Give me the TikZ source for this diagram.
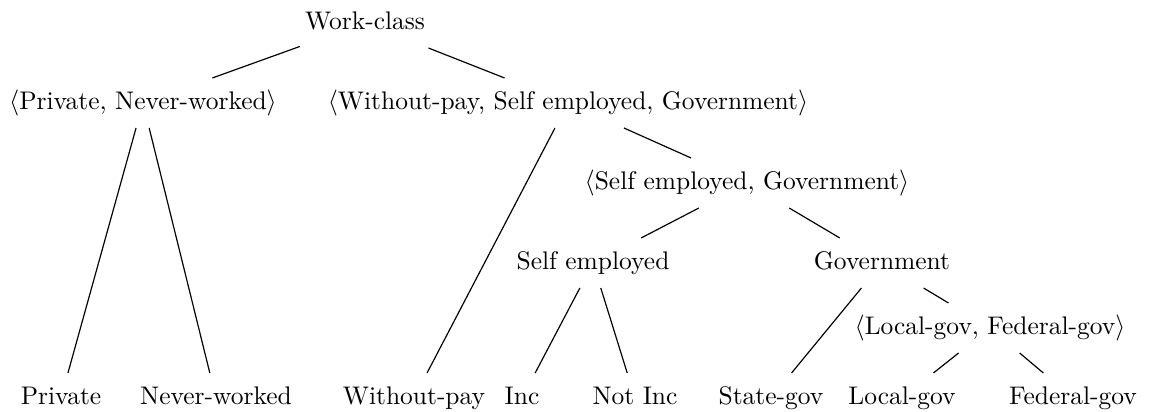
\documentclass[tikz,border=0pt]{standalone}
\tikzset{
  tnode/.style={font=\fontsize{10.74pt}{13pt}\selectfont, inner xsep=2pt, inner ysep=5pt, text height=8pt, text depth=2.7pt},
  tedge/.style={draw, line width=0.5pt}
}
\begin{document}
\begin{tikzpicture}[x=0.4217pt, y=-0.4217pt]
  \useasboundingbox (0,0) rectangle (1151,412);
  % top levels
  \node[tnode] (wc) at (365,23) {Work-class};
  \node[tnode] (pn) at (143,103) {$\langle$Private, Never-worked$\rangle$};
  \node[tnode] (wsg) at (568,103) {$\langle$Without-pay, Self employed, Government$\rangle$};
  \node[tnode] (sg) at (747,183) {$\langle$Self employed, Government$\rangle$};
  \node[tnode] (se) at (593,263) {Self employed};
  \node[tnode] (gov) at (882,263) {Government};
  \node[tnode] (lf) at (990,328) {$\langle$Local-gov, Federal-gov$\rangle$};
  % leaves
  \node[tnode] (priv) at (61,398) {Private};
  \node[tnode] (nw) at (216,398) {Never-worked};
  \node[tnode] (wp) at (414,398) {Without-pay};
  \node[tnode] (inc) at (522,398) {Inc};
  \node[tnode] (ninc) at (635,398) {Not Inc};
  \node[tnode] (sgov) at (771,398) {State-gov};
  \node[tnode] (lgov) at (902,398) {Local-gov};
  \node[tnode] (fgov) at (1073,398) {Federal-gov};

  \path[tedge] (wc) -- (pn) (wc) -- (wsg);
  \path[tedge] (pn) -- (priv) (pn) -- (nw);
  \path[tedge] (wsg) -- (wp) (wsg) -- (sg);
  \path[tedge] (sg) -- (se) (sg) -- (gov);
  \path[tedge] (se) -- (inc) (se) -- (ninc);
  \path[tedge] (gov) -- (sgov) (gov) -- (lf);
  \path[tedge] (lf) -- (lgov) (lf) -- (fgov);
\end{tikzpicture}
\end{document}
